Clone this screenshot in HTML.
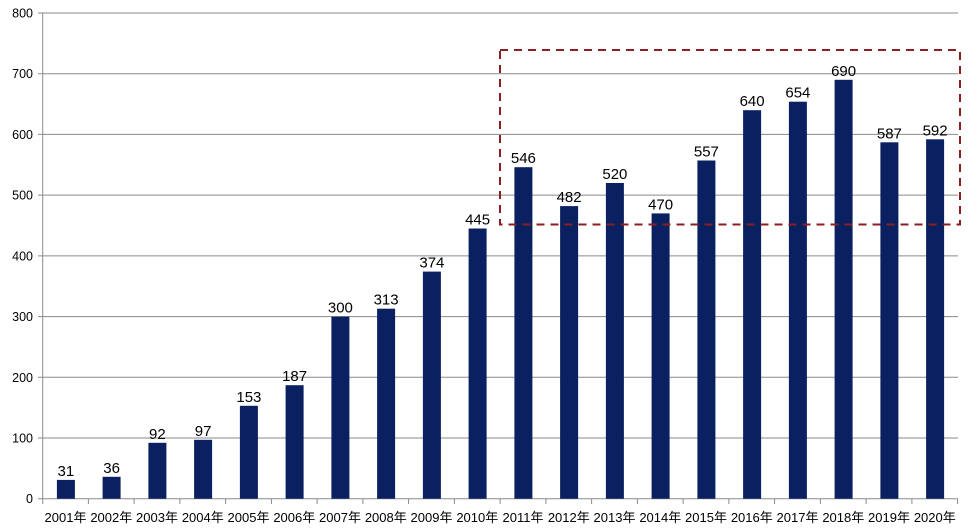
<!DOCTYPE html>
<html><head><meta charset="utf-8"><style>
html,body{margin:0;padding:0;background:#fff;}
svg{display:block;}
text{font-family:"Liberation Sans","Noto Sans CJK JP",sans-serif;fill:#000;}
.v{font-size:15px;text-anchor:middle;}
.x{font-size:13px;text-anchor:middle;}
.y{font-size:12.5px;text-anchor:end;}
</style></head><body>
<svg width="971" height="532" viewBox="0 0 971 532" xmlns="http://www.w3.org/2000/svg">
<g stroke="#8a8a8a" stroke-width="1">
<line x1="38" y1="13" x2="958" y2="13"/>
<line x1="38" y1="73.7" x2="958" y2="73.7"/>
<line x1="38" y1="134.4" x2="958" y2="134.4"/>
<line x1="38" y1="195.1" x2="958" y2="195.1"/>
<line x1="38" y1="255.9" x2="958" y2="255.9"/>
<line x1="38" y1="316.6" x2="958" y2="316.6"/>
<line x1="38" y1="377.3" x2="958" y2="377.3"/>
<line x1="38" y1="438" x2="958" y2="438"/>
<line x1="38" y1="498.7" x2="958" y2="498.7"/>
<line x1="42.7" y1="13" x2="42.7" y2="504"/>
<line x1="88.4" y1="498.7" x2="88.4" y2="504"/>
<line x1="134.1" y1="498.7" x2="134.1" y2="504"/>
<line x1="179.9" y1="498.7" x2="179.9" y2="504"/>
<line x1="225.6" y1="498.7" x2="225.6" y2="504"/>
<line x1="271.4" y1="498.7" x2="271.4" y2="504"/>
<line x1="317.1" y1="498.7" x2="317.1" y2="504"/>
<line x1="362.9" y1="498.7" x2="362.9" y2="504"/>
<line x1="408.6" y1="498.7" x2="408.6" y2="504"/>
<line x1="454.4" y1="498.7" x2="454.4" y2="504"/>
<line x1="500.1" y1="498.7" x2="500.1" y2="504"/>
<line x1="545.9" y1="498.7" x2="545.9" y2="504"/>
<line x1="591.6" y1="498.7" x2="591.6" y2="504"/>
<line x1="637.4" y1="498.7" x2="637.4" y2="504"/>
<line x1="683.1" y1="498.7" x2="683.1" y2="504"/>
<line x1="728.9" y1="498.7" x2="728.9" y2="504"/>
<line x1="774.6" y1="498.7" x2="774.6" y2="504"/>
<line x1="820.4" y1="498.7" x2="820.4" y2="504"/>
<line x1="866.1" y1="498.7" x2="866.1" y2="504"/>
<line x1="911.9" y1="498.7" x2="911.9" y2="504"/>
<line x1="957.6" y1="498.7" x2="957.6" y2="504"/>
</g>
<g class="y">
<text class="y" x="33" y="17.5">800</text>
<text class="y" x="33" y="78.2">700</text>
<text class="y" x="33" y="138.9">600</text>
<text class="y" x="33" y="199.6">500</text>
<text class="y" x="33" y="260.4">400</text>
<text class="y" x="33" y="321.1">300</text>
<text class="y" x="33" y="381.8">200</text>
<text class="y" x="33" y="442.5">100</text>
<text class="y" x="33" y="503.2">0</text>
</g>
<g fill="#0a2060">
<rect x="56.9" y="479.9" width="18" height="18.8"/>
<rect x="102.6" y="476.8" width="18" height="21.9"/>
<rect x="148.4" y="442.8" width="18" height="55.9"/>
<rect x="194.1" y="439.8" width="18" height="58.9"/>
<rect x="239.9" y="405.8" width="18" height="92.9"/>
<rect x="285.6" y="385.2" width="18" height="113.5"/>
<rect x="331.4" y="316.6" width="18" height="182.1"/>
<rect x="377.1" y="308.7" width="18" height="190"/>
<rect x="422.9" y="271.6" width="18" height="227.1"/>
<rect x="468.6" y="228.5" width="18" height="270.2"/>
<rect x="514.4" y="167.2" width="18" height="331.5"/>
<rect x="560.1" y="206.1" width="18" height="292.6"/>
<rect x="605.9" y="183" width="18" height="315.7"/>
<rect x="651.6" y="213.4" width="18" height="285.3"/>
<rect x="697.4" y="160.5" width="18" height="338.2"/>
<rect x="743.1" y="110.2" width="18" height="388.5"/>
<rect x="788.9" y="101.7" width="18" height="397"/>
<rect x="834.6" y="79.8" width="18" height="418.9"/>
<rect x="880.4" y="142.3" width="18" height="356.4"/>
<rect x="926.1" y="139.3" width="18" height="359.4"/>
</g>
<g>
<text class="v" x="65.9" y="475.9">31</text>
<text class="v" x="111.6" y="472.8">36</text>
<text class="v" x="157.4" y="438.8">92</text>
<text class="v" x="203.1" y="435.8">97</text>
<text class="v" x="248.9" y="401.8">153</text>
<text class="v" x="294.6" y="381.2">187</text>
<text class="v" x="340.4" y="312.6">300</text>
<text class="v" x="386.1" y="304.7">313</text>
<text class="v" x="431.9" y="267.6">374</text>
<text class="v" x="477.6" y="224.5">445</text>
<text class="v" x="523.4" y="163.2">546</text>
<text class="v" x="569.1" y="202.1">482</text>
<text class="v" x="614.9" y="179">520</text>
<text class="v" x="660.6" y="209.4">470</text>
<text class="v" x="706.4" y="156.5">557</text>
<text class="v" x="752.1" y="106.2">640</text>
<text class="v" x="797.9" y="97.7">654</text>
<text class="v" x="843.6" y="75.8">690</text>
<text class="v" x="889.4" y="138.3">587</text>
<text class="v" x="935.1" y="135.3">592</text>
</g>
<g>
<text class="x" x="65.5" y="522">2001年</text>
<text class="x" x="111.3" y="522">2002年</text>
<text class="x" x="157" y="522">2003年</text>
<text class="x" x="202.8" y="522">2004年</text>
<text class="x" x="248.5" y="522">2005年</text>
<text class="x" x="294.3" y="522">2006年</text>
<text class="x" x="340" y="522">2007年</text>
<text class="x" x="385.8" y="522">2008年</text>
<text class="x" x="431.5" y="522">2009年</text>
<text class="x" x="477.3" y="522">2010年</text>
<text class="x" x="523" y="522">2011年</text>
<text class="x" x="568.8" y="522">2012年</text>
<text class="x" x="614.5" y="522">2013年</text>
<text class="x" x="660.3" y="522">2014年</text>
<text class="x" x="706" y="522">2015年</text>
<text class="x" x="751.8" y="522">2016年</text>
<text class="x" x="797.5" y="522">2017年</text>
<text class="x" x="843.3" y="522">2018年</text>
<text class="x" x="889" y="522">2019年</text>
<text class="x" x="934.8" y="522">2020年</text>
</g>
<rect x="500" y="50" width="460" height="174.5" fill="none" stroke="#8b1e22" stroke-width="2" stroke-dasharray="8 6"/>
</svg>
</body></html>
